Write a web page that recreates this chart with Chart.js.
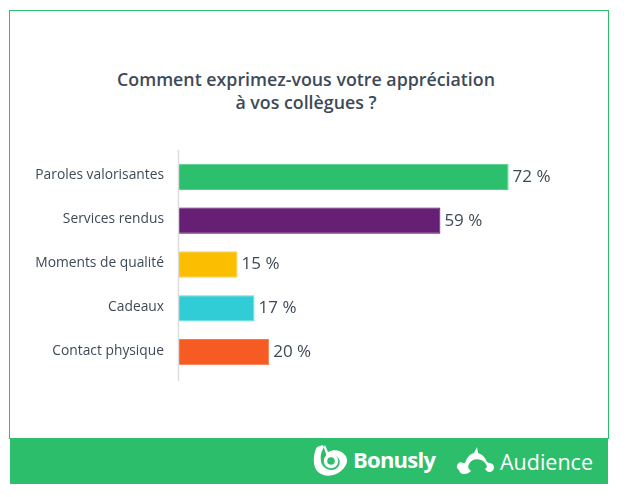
<!DOCTYPE html>
<html lang="fr"><head><meta charset="utf-8">
<script src="https://cdn.jsdelivr.net/npm/chart.js@4"></script>
<style>
html,body{margin:0;padding:0;background:#fff;width:631px;height:497px;overflow:hidden}
#frame{position:absolute;left:9px;top:10px;width:598px;height:428px;border:1px solid #2dbe6c;border-bottom:none}
#title{position:absolute;left:6px;top:68px;width:600px;text-align:center;font:600 17.8px/23px "Open Sans",sans-serif;color:#3e4a57}
#foot{position:absolute;left:10px;top:438px;width:598px;height:46px;background:#2dbe6c}
#foot span{position:absolute;color:#fff;font-family:"Open Sans",sans-serif}
#foot svg{position:absolute}
canvas{position:absolute;left:0;top:0}
</style></head><body>
<div id="frame"></div>
<div id="title">Comment exprimez-vous votre appréciation<br>à vos collègues ?</div>
<div id="foot">
<svg style="left:303px;top:6px" width="36" height="34" viewBox="0 0 36 34"><path d="M4 3C0 10-1 22 5 28c6 5 16 5 23-1 6-5 8-11 4-16C28 6 21 5 15 8L12 1 9 7C7 12 7 19 11 23c4 4 11 4 14 0 3-4 2-9-2-11-3-2-7-1-9 1L10 1z" fill="#fff" fill-rule="evenodd"/><circle cx="18" cy="17" r="5.5" fill="none" stroke="#fff" stroke-width="3.5"/></svg>
<span style="left:343px;top:6px;font-size:22px;font-weight:700;line-height:30px;letter-spacing:-.75px">Bonusly</span>
<svg style="left:446px;top:7px" width="40" height="30" viewBox="0 0 40 30"><path d="M3 25a4 4 0 0 1 4-7h2c2-6 5-9 9-10l3-6 1 6c4 1 7 4 9 9l2 1a4.500 4.500 0 0 1 1 9c-3 0-4-2-5-3l2-2c-1-4-3-6-6-7-5-2-10 0-12 4-1 2-1 4 0 5l2 2c-2 2-4 3-7 3-3 0-4-1-5-4z" fill="#fff"/></svg>
<span style="left:490px;top:9px;font-size:21.5px;font-weight:400;line-height:30px">Audience</span>
</div>
<canvas id="c" width="631" height="497"></canvas>
<script>
const categories = ["Paroles valorisantes","Services rendus","Moments de qualité","Cadeaux","Contact physique"];
// Bar lengths as drawn in the picture; the printed labels are kept separately.
const barLengths = [72,57.1,12.8,16.5,19.7];
const valueLabels = ["72 %","59 %","15 %","17 %","20 %"];
const fillColors = ["#2cc06e","#671e75","#fbbe00","#30cdd7","#f55b22"];
const edgeColors = ["#4fd08a","#561062","#fcd050","#62dce3","#f77a4c"];
const inkColor = "#3e4a57";
const fontFace = '"Open Sans",sans-serif';

const extras = {
  id:"extras",
  afterDatasetsDraw(chart){
    const {ctx,scales:{x},chartArea:a} = chart;
    ctx.save();
    ctx.strokeStyle="#dcdcdc";ctx.lineWidth=1.5;
    const x0=x.getPixelForValue(0)-0.5;
    ctx.beginPath();ctx.moveTo(x0,a.top-5);ctx.lineTo(x0,a.bottom+7);ctx.stroke();
    ctx.fillStyle=inkColor;ctx.font='500 17px '+fontFace;ctx.textBaseline="middle";ctx.textAlign="left";
    chart.getDatasetMeta(0).data.forEach((b,i)=>ctx.fillText(valueLabels[i],b.x+4,b.y));
    ctx.restore();
  }
};
new Chart(document.getElementById("c"),{
  type:"bar",
  data:{labels:categories,datasets:[{data:barLengths,backgroundColor:fillColors,borderColor:edgeColors,borderWidth:1,categoryPercentage:1,barPercentage:0.6}]},
  plugins:[extras],
  options:{
    indexAxis:"y",responsive:false,animation:false,devicePixelRatio:1,
    layout:{padding:{top:155,bottom:123,left:0,right:40}},
    plugins:{legend:{display:false},tooltip:{enabled:false},title:{display:false}},
    scales:{
      x:{display:false,min:0,max:90},
      y:{afterFit(s){
           s.width=179;
           if(!s._shifted){
             s._shifted=true;
             const base=s.drawLabels;
             s.drawLabels=function(area){const c=this.ctx;c.save();c.translate(0,-1.5);base.call(this,area);c.restore();};
           }
         },
         grid:{display:false},border:{display:false},
         ticks:{padding:7,color:inkColor,font:{family:fontFace,size:13.8,weight:"500"},autoSkip:false}}
    }
  }
});
</script>
</body></html>
